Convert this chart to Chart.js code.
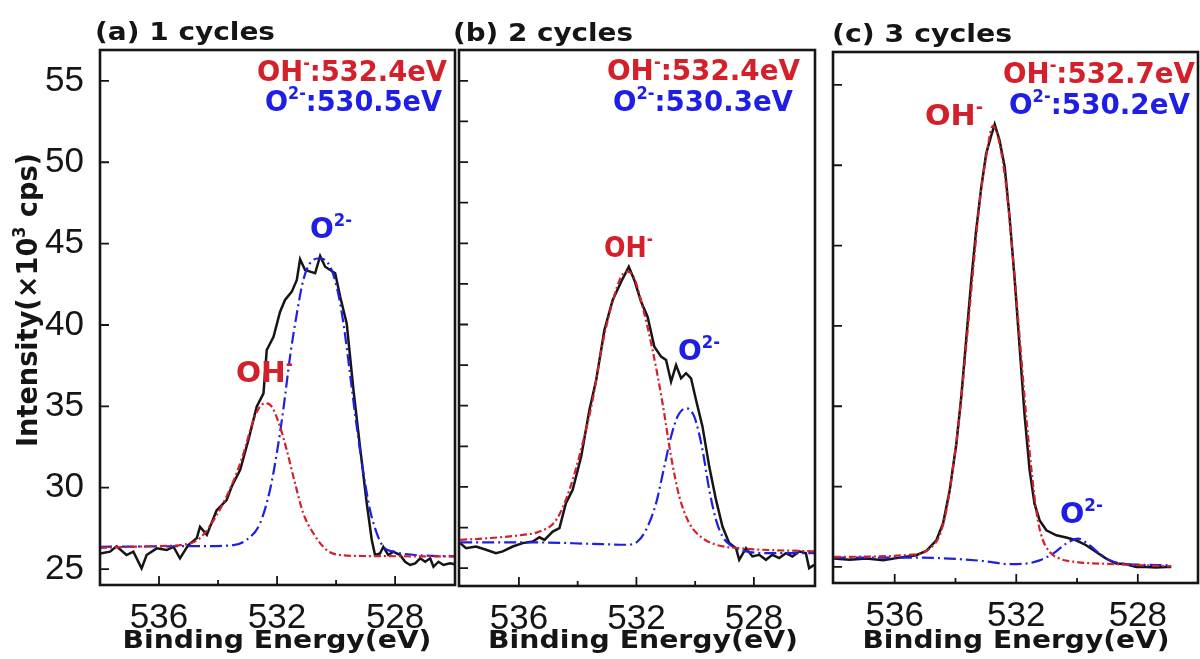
<!DOCTYPE html>
<html>
<head>
<meta charset="utf-8">
<script src="https://cdn.jsdelivr.net/npm/chart.js@4.4.1/dist/chart.umd.min.js"></script>
<style>
  body { margin: 0; background: #fff; }
  #wrap { position: relative; width: 1200px; height: 659px; overflow: hidden; }
  #wrap canvas { position: absolute; top: 0; }
</style>
</head>
<body>
<div id="wrap">
  <canvas id="panelA" width="460" height="659" style="left:0px"></canvas>
  <canvas id="panelB" width="380" height="659" style="left:440px"></canvas>
  <canvas id="panelC" width="380" height="659" style="left:820px"></canvas>
</div>
<script>
// O 1s XPS spectra, binding energy (eV) vs intensity (x10^3 cps)
const xLabelTicks = [536, 532, 528];
const xMinorTicks = [534, 530];
const yLabelTicks = [25, 30, 35, 40, 45, 50, 55];
const yHalfTicks = [25, 27.5, 30, 32.5, 35, 37.5, 40, 42.5, 45, 47.5, 50, 52.5, 55];

// (a) 1 cycles
const aExpX = [538.0, 537.66, 537.44, 537.10, 536.87, 536.59, 536.42, 536.08, 535.74, 535.51,
  535.29, 535.01, 534.72, 534.61, 534.38, 534.05, 533.71, 533.54, 533.25, 532.97,
  532.69, 532.46, 532.35, 532.12, 531.90, 531.73, 531.50, 531.33, 531.22, 531.05,
  530.88, 530.71, 530.54, 530.37, 530.20, 530.03, 529.86, 529.64, 529.41, 529.19,
  528.96, 528.79, 528.68, 528.51, 528.40, 528.23, 528.06, 527.83, 527.66, 527.49,
  527.32, 527.15, 526.98, 526.81, 526.70, 526.53, 526.36, 526.14, 525.98];
const aExpY = [25.96, 26.07, 26.4, 25.86, 26.07, 25.04, 25.86, 26.27, 26.17, 26.37,
  25.66, 26.48, 26.9, 27.6, 27.1, 28.6, 29.24, 30.06, 31.1, 32.93,
  34.98, 35.8, 38.46, 39.28, 40.8, 41.54, 42.05, 42.77, 44.04, 43.38,
  43.28, 43.18, 44.24, 43.58, 43.38, 43.18, 41.74, 40.1, 36.0, 32.52,
  29.04, 26.78, 25.86, 25.96, 26.37, 25.86, 26.07, 25.86, 25.45, 25.25,
  25.35, 25.66, 25.45, 25.66, 25.14, 25.45, 25.25, 25.35, 25.3];
const aOhX = [538.0, 536.31, 535.18, 534.61, 534.05, 533.48, 533.14, 532.80, 532.58, 532.41,
  532.18, 531.90, 531.67, 531.39, 531.11, 530.77, 530.32, 529.86, 528.96, 526.0];
const aOhY = [26.3, 26.4, 26.5, 26.9, 28.3, 30.4, 32.1, 34.16, 34.98, 35.18,
  34.98, 33.75, 32.3, 30.27, 28.42, 27.2, 26.17, 25.86, 25.8, 25.78];
const aO2X = [538.0, 534.61, 533.48, 533.03, 532.58, 532.24, 532.01, 531.79, 531.56, 531.33,
  531.11, 530.88, 530.54, 530.20, 529.98, 529.75, 529.53, 529.30, 529.07, 528.85,
  528.62, 528.40, 528.06, 527.27, 526.0];
const aO2Y = [26.37, 26.41, 26.47, 26.8, 27.8, 29.86, 32.1, 34.77, 38.05, 40.7,
  42.77, 43.8, 44.1, 43.58, 42.36, 40.1, 37.03, 33.75, 30.88, 28.63,
  27.2, 26.37, 26.07, 25.86, 25.78];

// (b) 2 cycles
const bExpX = [538.0, 537.80, 537.46, 537.12, 536.78, 536.55, 536.21, 535.87, 535.53, 535.30,
  535.13, 534.85, 534.62, 534.40, 534.17, 533.88, 533.60, 533.37, 533.09, 532.81,
  532.52, 532.26, 532.07, 531.84, 531.62, 531.39, 531.16, 530.99, 530.82, 530.65,
  530.48, 530.31, 530.14, 529.97, 529.75, 529.52, 529.29, 529.07, 528.84, 528.61,
  528.50, 528.27, 528.05, 527.82, 527.59, 527.37, 527.14, 526.91, 526.69, 526.46,
  526.23, 526.12, 525.95];
const bExpY = [26.54, 26.23, 26.33, 26.13, 25.92, 26.03, 26.33, 26.54, 26.64, 26.9,
  26.74, 27.25, 27.46, 29.0, 29.82, 31.87, 34.74, 36.58, 39.66, 41.5,
  42.63, 43.55, 42.73, 41.4, 40.48, 38.63, 38.02, 37.81, 36.48, 37.5,
  36.69, 37.0, 36.69, 35.35, 33.71, 31.25, 29.2, 27.56, 26.54, 26.23,
  25.51, 26.23, 25.72, 25.82, 25.51, 25.82, 25.62, 25.92, 25.72, 26.03,
  25.92, 25.0, 25.2];
const bOhX = [538.0, 537.00, 535.87, 535.30, 534.73, 534.28, 533.83, 533.49, 533.15, 532.81,
  532.52, 532.30, 532.07, 531.79, 531.45, 531.11, 530.82, 530.54, 530.20, 529.75,
  529.29, 528.50, 525.95];
const bOhY = [26.74, 26.85, 27.05, 27.25, 27.97, 29.82, 32.69, 35.35, 38.84, 41.4,
  42.94, 43.25, 42.84, 41.09, 38.43, 35.15, 31.87, 29.41, 27.77, 26.85,
  26.44, 26.23, 26.03];
const bO2X = [538.0, 535.30, 533.60, 532.35, 531.96, 531.67, 531.33, 531.05, 530.82, 530.60,
  530.31, 530.03, 529.75, 529.52, 529.29, 529.07, 528.73, 528.27, 527.37, 525.95];
const bO2Y = [26.58, 26.58, 26.5, 26.44, 26.64, 27.36, 29.0, 31.25, 33.1, 34.33,
  34.84, 34.33, 32.28, 29.82, 27.97, 26.95, 26.33, 26.03, 25.92, 25.92];

// (c) 3 cycles
const cExpX = [538.0, 537.48, 536.93, 536.38, 535.84, 535.29, 534.96, 534.63, 534.41, 534.19,
  533.97, 533.81, 533.64, 533.48, 533.32, 533.15, 532.99, 532.82, 532.71, 532.55,
  532.38, 532.22, 532.05, 531.89, 531.73, 531.56, 531.40, 531.23, 531.01, 530.68,
  530.36, 530.03, 529.70, 529.37, 529.04, 528.71, 528.38, 528.05, 527.73, 527.40,
  527.07, 526.90];
const cExpY = [25.52, 25.45, 25.52, 25.41, 25.58, 25.73, 26.0, 26.66, 27.7, 29.77,
  32.68, 35.58, 39.32, 42.84, 45.95, 48.65, 50.73, 51.87, 52.55, 51.56,
  49.9, 46.78, 42.84, 38.69, 34.54, 31.02, 28.94, 27.9, 27.28, 26.97,
  26.83, 26.66, 26.35, 25.93, 25.52, 25.21, 25.17, 25.0, 25.0, 24.96,
  25.0, 25.0];
const cOhX = [538.0, 535.29, 534.85, 534.52, 534.30, 534.08, 533.86, 533.64, 533.42, 533.21,
  532.99, 532.77, 532.55, 532.33, 532.11, 531.89, 531.67, 531.45, 531.29, 531.12,
  530.90, 530.58, 530.03, 528.71, 526.90];
const cOhY = [25.62, 25.79, 26.14, 26.97, 28.53, 31.22, 34.54, 38.9, 43.46, 47.61,
  50.52, 52.45, 51.35, 48.65, 44.29, 39.32, 34.34, 30.19, 27.9, 26.66,
  25.93, 25.52, 25.31, 25.17, 25.04];
const cO2X = [538.0, 535.29, 534.19, 533.10, 532.22, 531.67, 531.23, 530.79, 530.36, 529.97,
  529.59, 529.26, 528.93, 528.49, 526.90];
const cO2Y = [25.58, 25.58, 25.52, 25.37, 25.17, 25.21, 25.41, 25.83, 26.45, 26.76,
  26.35, 25.83, 25.41, 25.21, 25.1];

const RED = '#d3202a';
const BLUE = '#1e1ee6';
const INK = '#151515';
const tickFont = { family: '"Liberation Sans", Arial, sans-serif', size: 35 };

function zip(xs, ys) {
  return xs.map((x, i) => ({ x: x, y: ys[i] }));
}

function boldFont(size) {
  return 'bold ' + size + 'px "DejaVu Sans", "Liberation Sans", Arial, sans-serif';
}

// bold labels, with superscripts, stretched to the width seen in the figure
function drawLabel(ctx, item, offsetX) {
  const size = item.size;
  let total = 0;
  const pieces = item.parts.map(function (p) {
    const sup = p[1];
    const fs = sup ? Math.round(size * 0.58) : size;
    ctx.font = boldFont(fs);
    const w = ctx.measureText(p[0]).width;
    const piece = { t: p[0], fs: fs, x: total, dy: sup ? -size * 0.4 : 0 };
    total += w;
    return piece;
  });
  const sx = item.width ? item.width / total : 1;
  let start = 0;
  if (item.align === 'right') start = -total;
  if (item.align === 'center') start = -total / 2;
  ctx.save();
  ctx.translate(item.x - offsetX, item.y);
  if (item.rotate) ctx.rotate(-Math.PI / 2);
  ctx.scale(sx, 1);
  ctx.fillStyle = item.color || INK;
  ctx.textAlign = 'left';
  ctx.textBaseline = 'alphabetic';
  pieces.forEach(function (p) {
    ctx.font = boldFont(p.fs);
    ctx.fillText(p.t, start + p.x, p.dy);
  });
  ctx.restore();
}

// frame, inward tick marks and the text labels
const framePlugin = {
  id: 'frame',
  afterDatasetsDraw(chart, args, opts) {
    const ctx = chart.ctx;
    const a = chart.chartArea;
    const xs = chart.scales.x;
    const ys = chart.scales.y;
    ctx.save();
    ctx.strokeStyle = INK;
    ctx.lineWidth = 1.8;
    ctx.beginPath();
    xLabelTicks.forEach(function (v) {
      const px = xs.getPixelForValue(v);
      ctx.moveTo(px, a.bottom);
      ctx.lineTo(px, a.bottom - 9);
    });
    xMinorTicks.forEach(function (v) {
      const px = xs.getPixelForValue(v);
      ctx.moveTo(px, a.bottom);
      ctx.lineTo(px, a.bottom - 5);
    });
    opts.yTicks.forEach(function (v) {
      const py = ys.getPixelForValue(v);
      ctx.moveTo(a.left, py);
      ctx.lineTo(a.left + 9, py);
    });
    ctx.stroke();
    ctx.lineWidth = 2.6;
    ctx.strokeRect(a.left, a.top, a.right - a.left, a.bottom - a.top);
    ctx.restore();
    opts.labels.forEach(function (item) { drawLabel(ctx, item, opts.offsetX); });
  }
};

function makePanel(id, p) {
  new Chart(document.getElementById(id), {
    type: 'line',
    data: {
      datasets: [
        { data: zip(p.ohX, p.ohY), borderColor: RED, borderWidth: 2.2, borderDash: [7, 3, 2, 3],
          cubicInterpolationMode: 'monotone', pointRadius: 0, order: 1 },
        { data: zip(p.o2X, p.o2Y), borderColor: BLUE, borderWidth: 2.2, borderDash: [12, 4, 2, 4],
          cubicInterpolationMode: 'monotone', pointRadius: 0, order: 2 },
        { data: zip(p.expX, p.expY), borderColor: INK, borderWidth: 2.5, tension: 0,
          pointRadius: 0, order: 3 }
      ]
    },
    options: {
      responsive: false,
      animation: false,
      events: [],
      layout: { padding: { top: p.top, right: p.right, left: 0, bottom: 0 } },
      plugins: {
        legend: { display: false },
        tooltip: { enabled: false },
        frame: { yTicks: p.yTicks, labels: p.labels, offsetX: p.offsetX }
      },
      scales: {
        x: {
          type: 'linear', reverse: true, min: p.xMin, max: p.xMax,
          grid: { display: false }, border: { display: false },
          ticks: { font: tickFont, color: INK, padding: 4, maxRotation: 0 },
          afterBuildTicks: function (s) { s.ticks = xLabelTicks.map(function (v) { return { value: v }; }); },
          afterFit: function (s) { s.height = p.xH; }
        },
        y: {
          type: 'linear', min: p.yMin, max: p.yMax,
          grid: { display: false }, border: { display: false },
          ticks: { display: p.yLabels, font: tickFont, color: INK, padding: 8 },
          afterBuildTicks: function (s) { s.ticks = yLabelTicks.map(function (v) { return { value: v }; }); },
          afterFit: function (s) { s.width = p.yW; }
        }
      }
    },
    plugins: [framePlugin]
  });
}

const ohParts = function (v) { return [['OH'], ['-', true], [':' + v + 'eV']]; };
const o2Parts = function (v) { return [['O'], ['2-', true], [':' + v + 'eV']]; };
const xTitle = [['Binding Energy(eV)']];

makePanel('panelA', {
  expX: aExpX, expY: aExpY, ohX: aOhX, ohY: aOhY, o2X: aO2X, o2Y: aO2Y,
  xMin: 525.97, xMax: 538.0, yMin: 24.02, yMax: 56.9,
  top: 50, right: 5, xH: 74, yW: 100, yLabels: true, yTicks: yLabelTicks, offsetX: 0,
  labels: [
    { parts: [['(a) 1 cycles']], x: 95, y: 40, size: 25, width: 180, align: 'left' },
    { parts: ohParts('532.4'), x: 447, y: 81, size: 29, width: 190, align: 'right', color: RED },
    { parts: o2Parts('530.5'), x: 442, y: 111, size: 29, width: 177, align: 'right', color: BLUE },
    { parts: [['O'], ['2-', true]], x: 310, y: 238, size: 29, width: 42, align: 'left', color: BLUE },
    { parts: [['OH'], ['-', true]], x: 236, y: 382, size: 29, width: 57, align: 'left', color: RED },
    { parts: xTitle, x: 277, y: 648, size: 25, width: 309, align: 'center' },
    { parts: [['Intensity(\u00d710'], ['3', true], [' cps)']], x: 37, y: 300, size: 29, width: 294,
      align: 'center', rotate: true }
  ]
});

makePanel('panelB', {
  expX: bExpX, expY: bExpY, ohX: bOhX, ohY: bOhY, o2X: bO2X, o2Y: bO2Y,
  xMin: 525.92, xMax: 538.04, yMin: 23.9, yMax: 56.9,
  top: 50, right: 5, xH: 73, yW: 19, yLabels: false, yTicks: yHalfTicks, offsetX: 440,
  labels: [
    { parts: [['(b) 2 cycles']], x: 453, y: 41, size: 25, width: 180, align: 'left' },
    { parts: ohParts('532.4'), x: 800, y: 80, size: 29, width: 193, align: 'right', color: RED },
    { parts: o2Parts('530.3'), x: 793, y: 111, size: 29, width: 180, align: 'right', color: BLUE },
    { parts: [['OH'], ['-', true]], x: 604, y: 257, size: 29, width: 49, align: 'left', color: RED },
    { parts: [['O'], ['2-', true]], x: 678, y: 360, size: 29, width: 42, align: 'left', color: BLUE },
    { parts: xTitle, x: 643, y: 648, size: 25, width: 310, align: 'center' }
  ]
});

makePanel('panelC', {
  expX: cExpX, expY: cExpY, ohX: cOhX, ohY: cOhY, o2X: cO2X, o2Y: cO2Y,
  xMin: 526.02, xMax: 538.03, yMin: 24.0, yMax: 57.05,
  top: 52, right: 2, xH: 76, yW: 13, yLabels: false, yTicks: yLabelTicks, offsetX: 820,
  labels: [
    { parts: [['(c) 3 cycles']], x: 832, y: 42, size: 25, width: 180, align: 'left' },
    { parts: ohParts('532.7'), x: 1195, y: 83, size: 29, width: 192, align: 'right', color: RED },
    { parts: o2Parts('530.2'), x: 1190, y: 114, size: 29, width: 181, align: 'right', color: BLUE },
    { parts: [['OH'], ['-', true]], x: 925, y: 125, size: 29, width: 58, align: 'left', color: RED },
    { parts: [['O'], ['2-', true]], x: 1060, y: 523, size: 29, width: 43, align: 'left', color: BLUE },
    { parts: xTitle, x: 1016, y: 648, size: 25, width: 307, align: 'center' }
  ]
});
</script>
</body>
</html>
